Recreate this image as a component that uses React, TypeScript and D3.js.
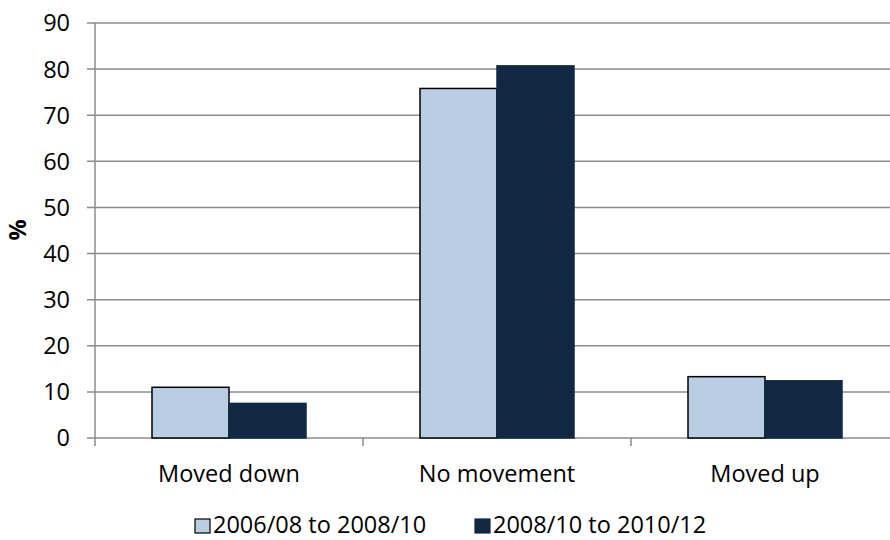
import React, { useEffect, useRef } from "react";
import * as d3 from "d3";

const categories = ["Moved down", "No movement", "Moved up"];
const seriesNames = ["2006/08 to 2008/10", "2008/10 to 2010/12"];
const series1 = [11.0, 75.8, 13.3];
const series2 = [7.5, 80.7, 12.4];
const yTicks = [0, 10, 20, 30, 40, 50, 60, 70, 80, 90];

const colors = ["#b9cde5", "#132843"];
const strokes = ["#000000", "#132843"];
const FONT = "'Open Sans', sans-serif";
const FS = 23.5;

const App: React.FC = () => {
    const svgRef = useRef<SVGSVGElement | null>(null);
    const width = 890;
    const height = 540;

    useEffect(() => {
        if (!svgRef.current) return;
        const svg = d3.select(svgRef.current);
        svg.selectAll("*").remove();

        const left = 95;
        const top = 23;
        const bottom = 438;
        const bandW = 268;

        const x = d3
            .scaleBand<string>()
            .domain(categories)
            .range([left, left + bandW * categories.length])
            .paddingInner(0)
            .paddingOuter(0);

        const inner = d3
            .scaleBand<number>()
            .domain([0, 1])
            .range([57, bandW - 57]);

        const y = d3.scaleLinear().domain([0, 90]).range([bottom, top]);

        // gridlines + y ticks
        const gy = svg.append("g");
        yTicks.forEach((t) => {
            gy.append("line")
                .attr("x1", left - 8)
                .attr("x2", width)
                .attr("y1", y(t))
                .attr("y2", y(t))
                .attr("stroke", "#8c8c8c")
                .attr("stroke-width", 1.5);
            gy.append("text")
                .attr("x", 70)
                .attr("y", y(t))
                .attr("dy", "0.36em")
                .attr("text-anchor", "end")
                .attr("font-family", FONT)
                .attr("font-size", FS)
                .attr("fill", "#000")
                .text(t);
        });

        // y axis line
        svg.append("line")
            .attr("x1", left)
            .attr("x2", left)
            .attr("y1", top)
            .attr("y2", bottom + 8)
            .attr("stroke", "#8c8c8c")
            .attr("stroke-width", 1.5);

        // category ticks
        categories.forEach((c, i) => {
            if (i === 0) return;
            const xx = x(c)!;
            svg.append("line")
                .attr("x1", xx)
                .attr("x2", xx)
                .attr("y1", bottom)
                .attr("y2", bottom + 8)
                .attr("stroke", "#8c8c8c")
                .attr("stroke-width", 1.5);
        });

        // bars
        const data = [series1, series2];
        data.forEach((vals, s) => {
            svg.append("g")
                .selectAll("rect")
                .data(vals)
                .join("rect")
                .attr("x", (d, i) => x(categories[i])! + inner(s)!)
                .attr("width", inner.bandwidth())
                .attr("y", (d) => y(d))
                .attr("height", (d) => bottom - y(d))
                .attr("fill", colors[s])
                .attr("stroke", strokes[s])
                .attr("stroke-width", 1.5);
        });

        // category labels
        categories.forEach((c) => {
            svg.append("text")
                .attr("x", x(c)! + 57 + inner.bandwidth())
                .attr("y", 482)
                .attr("text-anchor", "middle")
                .attr("font-family", FONT)
                .attr("font-size", FS)
                .attr("fill", "#000")
                .text(c);
        });

        // y title
        svg.append("text")
            .attr("transform", `translate(26,230) rotate(-90)`)
            .attr("text-anchor", "middle")
            .attr("font-family", FONT)
            .attr("font-size", FS)
            .attr("font-weight", "bold")
            .attr("fill", "#000")
            .text("%");

        // legend
        const legendX = [195, 475];
        seriesNames.forEach((n, i) => {
            svg.append("rect")
                .attr("x", legendX[i])
                .attr("y", 519)
                .attr("width", 15)
                .attr("height", 14)
                .attr("fill", colors[i])
                .attr("stroke", i === 0 ? "#000" : colors[i])
                .attr("stroke-width", 1.2);
            svg.append("text")
                .attr("x", legendX[i] + 18)
                .attr("y", 533)
                .attr("font-family", FONT)
                .attr("font-size", FS)
                .attr("fill", "#000")
                .text(n);
        });
    }, []);

    return (
        <div>
            <style>{"body{margin:0}"}</style>
            <svg
                ref={svgRef}
                width={width}
                height={height}
                style={{ display: "block", background: "#fff" }}
            ></svg>
        </div>
    );
};

export default App;
